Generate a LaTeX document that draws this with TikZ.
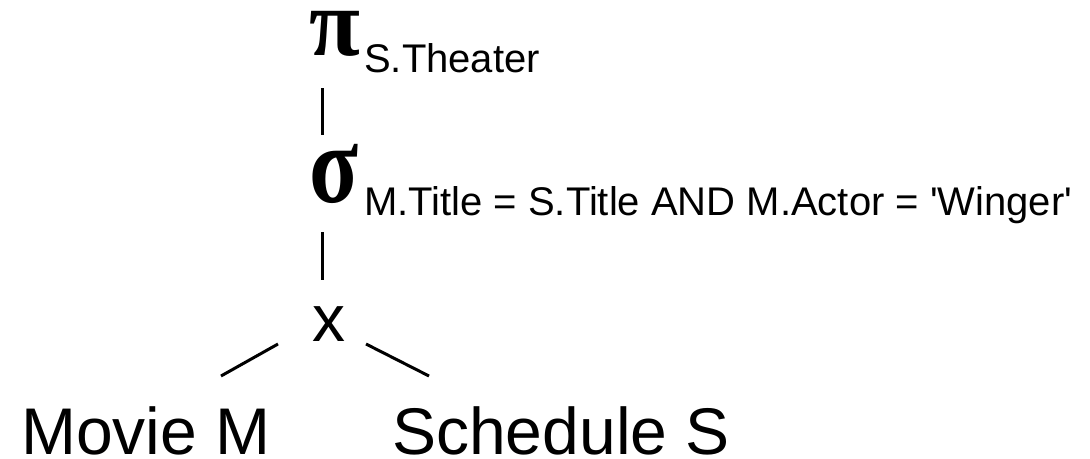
\documentclass[tikz,border=0pt]{standalone}
\usepackage{graphicx}
\usepackage{fontspec}
\setmainfont{Liberation Sans}
\newfontfamily\greekfont{Liberation Serif}
\newfontfamily\condfont{Liberation Sans}[Ligatures=TeXOff]
\usetikzlibrary{positioning}

\tikzset{
  op/.style={inner sep=0pt, anchor=base west, font=\greekfont\bfseries\fontsize{86}{96}\selectfont},
  cond/.style={inner sep=0pt, anchor=base west, font=\condfont\fontsize{40}{48}\selectfont},
  rel/.style={inner sep=0pt, anchor=base west, font=\fontsize{66}{72}\selectfont},
  edge/.style={line width=3pt}
}

\begin{document}
\begin{tikzpicture}[x=1pt,y=-1pt]
\useasboundingbox (0,0) rectangle (1090,458);
% projection and selection
\node[op] (pi) at (309,55) {\scalebox{1.08}[1.12]{π}};
\node[cond] (piSub) at (364,72) {S.Theater};
\node[op] (sigma) at (309,202) {\scalebox{1.05}[1.3]{σ}};
\node[cond] (sigmaSub) at (364,215) {M.Title = S.Title AND M.Actor = 'Winger'};
% product
\node[rel, anchor=base] (prod) at (329,341) {x};
\node[rel] (movie) at (21,454) {Movie M};
\node[rel] (sched) at (392,454) {Schedule S};
% edges
\draw[edge] ([xshift=13pt,yshift=-33pt]pi.base west) -- ([xshift=13pt,yshift=67pt]sigma.base west);
\draw[edge] ([xshift=13pt,yshift=-30pt]sigma.base west) -- ([xshift=13pt,yshift=61pt]sigma.base west |- prod.base);
\draw[edge] ([xshift=-51pt,yshift=-3pt]prod.base) -- ([xshift=200pt,yshift=78pt]movie.base west);
\draw[edge] ([xshift=37pt,yshift=-3pt]prod.base) -- ([xshift=37pt,yshift=78pt]sched.base west);
\end{tikzpicture}
\end{document}
